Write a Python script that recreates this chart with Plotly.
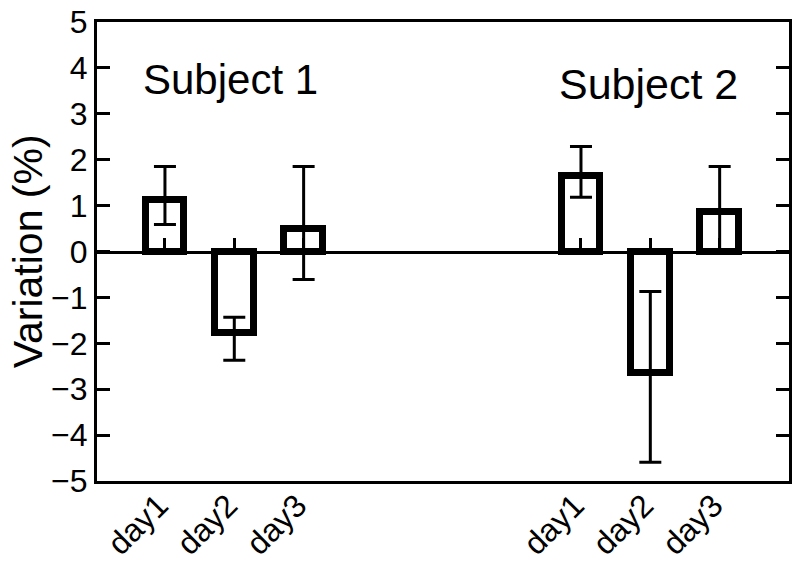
import plotly.graph_objects as go

# data
days = ['day1', 'day2', 'day3']
subjects = ['Subject 1', 'Subject 2']
y_title = 'Variation (%)'

s1_mean = [1.12, -1.78, 0.50]
s1_err_plus = [0.73, 0.35, 1.35]
s1_err_minus = [0.53, 0.59, 1.11]

s2_mean = [1.65, -2.65, 0.85]
s2_err_plus = [0.64, 1.78, 1.00]
s2_err_minus = [0.47, 1.94, 0.85]

y_ticks = list(range(-5, 6))

# layout helpers
GROUP_STEP = 6
LABEL_SHIFT = -0.09   # nudge rotated day labels a little left of their bar
FONT = 'Liberation Sans, Arial, sans-serif'

means = [s1_mean, s2_mean]
err_plus = [s1_err_plus, s2_err_plus]
err_minus = [s1_err_minus, s2_err_minus]

fig = go.Figure()
tickvals, ticktext = [], []

for g, name in enumerate(subjects):
    xs = [g * GROUP_STEP + i for i in range(len(days))]
    tickvals += xs
    ticktext += days
    fig.add_trace(go.Bar(
        x=xs,
        y=means[g],
        width=0.56,
        name=name,
        marker=dict(color='white', line=dict(color='black', width=7)),
        error_y=dict(
            type='data',
            symmetric=False,
            array=err_plus[g],
            arrayminus=err_minus[g],
            color='black',
            thickness=3,
            width=11,
        ),
        showlegend=False,
        hoverinfo='skip',
    ))

# invisible trace so the zero-line axis gets drawn
fig.add_trace(go.Scatter(x=[tickvals[0]], y=[0], xaxis='x2', mode='markers',
                         marker=dict(opacity=0), showlegend=False, hoverinfo='skip'))

x_range = [-0.98, 9.0]

# page body has an 8px margin, so the figure is a bit smaller than the window
fig.update_layout(
    width=792,
    height=567,
    margin=dict(l=89, r=11, t=14, b=94),
    paper_bgcolor='white',
    plot_bgcolor='white',
    font=dict(family=FONT, size=32, color='black'),
    bargap=0,
    xaxis=dict(
        range=x_range,
        automargin=False,
        tickmode='array',
        tickvals=[v + LABEL_SHIFT for v in tickvals],
        ticktext=ticktext,
        tickangle=-45,
        ticks='',
        showline=True,
        linecolor='black',
        linewidth=3,
        mirror=True,
        showgrid=False,
        zeroline=False,
        tickfont=dict(size=32),
        ticklabelstandoff=-10,
        ticklabeloverflow='allow',
    ),
    xaxis2=dict(
        range=x_range,
        automargin=False,
        overlaying='x',
        anchor='free',
        position=0.5,
        side='top',
        tickmode='array',
        tickvals=tickvals,
        ticks='outside',
        ticklen=13,
        tickwidth=3,
        tickcolor='black',
        showticklabels=False,
        showline=True,
        linecolor='black',
        linewidth=3,
        showgrid=False,
        zeroline=False,
    ),
    yaxis=dict(
        range=[-5, 5],
        automargin=False,
        tickmode='array',
        tickvals=y_ticks,
        ticks='inside',
        ticklen=13,
        tickwidth=3,
        tickcolor='black',
        showline=True,
        linecolor='black',
        linewidth=3,
        mirror='ticks',
        showgrid=False,
        zeroline=False,
        tickfont=dict(size=32),
        ticklabelstandoff=0,
        ticklabeloverflow='allow',
    ),
    annotations=[
        dict(text=y_title, x=-0.1, y=0.5, xref='paper', yref='paper',
             textangle=-90, showarrow=False, font=dict(size=41),
             xanchor='center', yanchor='middle'),
        dict(text=subjects[0], x=0.95, y=3.74, xref='x', yref='y',
             showarrow=False, font=dict(size=42)),
        dict(text=subjects[1], x=6.98, y=3.65, xref='x', yref='y',
             showarrow=False, font=dict(size=43)),
    ],
)

fig.write_html('out.html')
